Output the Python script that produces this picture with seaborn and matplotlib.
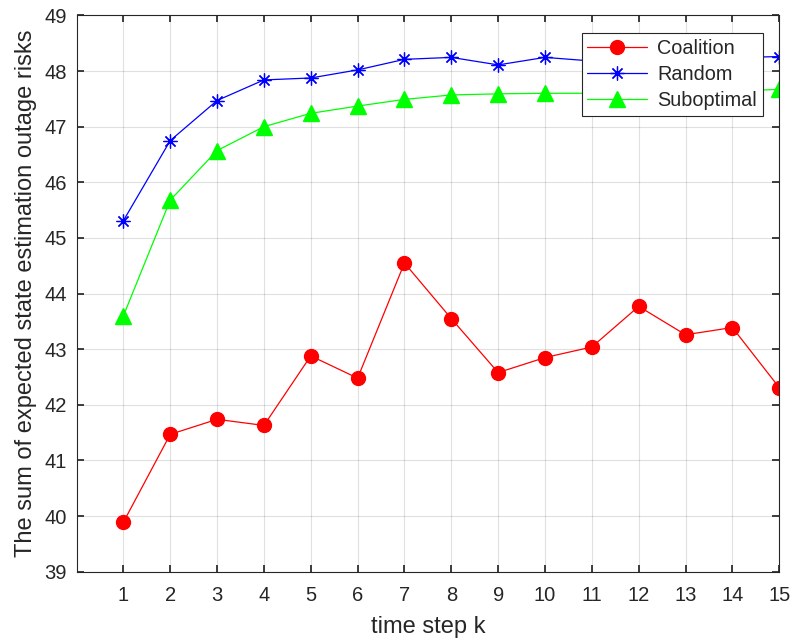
import numpy as np
import pandas as pd
import matplotlib
matplotlib.use("Agg")
import matplotlib.pyplot as plt
import seaborn as sns

# values
steps = list(range(1, 16))
coalition = [39.89, 41.47, 41.74, 41.63, 42.88, 42.48, 44.55, 43.55,
             42.58, 42.85, 43.04, 43.77, 43.26, 43.39, 42.31]
random_sel = [45.31, 46.75, 47.47, 47.84, 47.875, 48.02, 48.21, 48.245,
              48.11, 48.245, 48.18, 48.20, 48.22, 48.24, 48.26]
suboptimal = [43.60, 45.68, 46.57, 47.00, 47.24, 47.37, 47.49, 47.57,
              47.59, 47.60, 47.60, 47.61, 47.62, 47.64, 47.67]

series_names = ["Coalition", "Random", "Suboptimal"]
series_colors = ["#ff0000", "#0000ff", "#00ff00"]
series_markers = ["o", (8, 2, 0), "^"]
series_sizes = [10, 10, 11]
series_mew = [1.0, 0.9, 1.0]

df = pd.DataFrame({
    "k": steps * 3,
    "risk": coalition + random_sel + suboptimal,
    "method": np.repeat(series_names, len(steps)),
})

sns.set_theme(style="white")
plt.rcParams["font.family"] = ["Liberation Sans", "DejaVu Sans"]

fig = plt.figure(figsize=(7.94, 6.41), dpi=100)
ax = fig.add_axes([0.0964, 0.108, 0.885, 0.868])

for name, col, mk, ms, mew in zip(series_names, series_colors, series_markers,
                                  series_sizes, series_mew):
    sub = df[df["method"] == name]
    sns.lineplot(data=sub, x="k", y="risk", ax=ax, color=col, marker=mk,
                 markersize=ms, markeredgecolor=col, markeredgewidth=mew,
                 linewidth=0.9, label=name)

ax.set_xlim(0, 15)
ax.set_ylim(39, 49)
ax.set_xticks(steps)
ax.set_yticks(range(39, 50))
ax.grid(True, color="#000000", alpha=0.12, linewidth=0.8)
ax.tick_params(direction="in", length=5, labelsize=14.5, colors="#262626",
               top=True, right=True, bottom=True, left=True, pad=7,
               labelcolor="#262626")
ax.tick_params(axis="x", pad=10)
for sp in ax.spines.values():
    sp.set_color("#262626")
    sp.set_linewidth(0.8)
    sp.set_visible(True)

ax.set_xlabel("time step k", fontsize=17, color="#262626", labelpad=8)
ax.set_ylabel("The sum of expected state estimation outage risks",
              fontsize=17, color="#262626", labelpad=5)

leg = ax.legend(loc="upper right", bbox_to_anchor=(0.9765, 0.968), fontsize=14.3,
                frameon=True, fancybox=False, framealpha=1, edgecolor="#262626",
                handlelength=3.0, borderpad=0.3, labelspacing=0.36,
                handletextpad=0.5, borderaxespad=0.0)
leg.get_frame().set_linewidth(0.8)

fig.savefig("out.png", dpi=100)
